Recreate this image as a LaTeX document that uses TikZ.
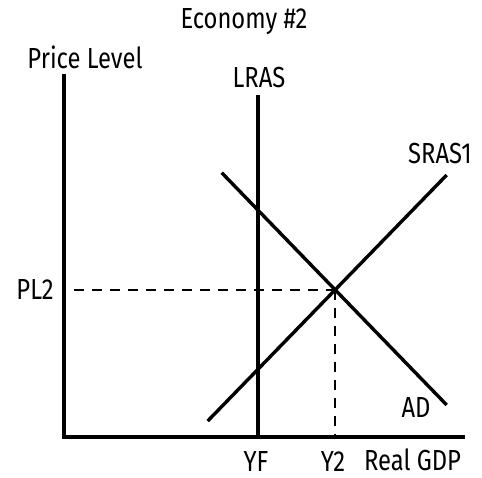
\documentclass[tikz,border=0pt]{standalone}
\usepackage{fontspec}
\setmainfont{Fira Sans}[FakeStretch=0.82]
\usetikzlibrary{positioning}
\tikzset{
  axisline/.style={line width=3.8pt, line join=miter},
  curveline/.style={line width=3.4pt},
  guideline/.style={line width=2pt, dash pattern=on 10pt off 8pt},
  graphlabel/.style={font=\fontsize{29}{32}\selectfont, inner sep=0pt, anchor=base}
}

\begin{document}
\begin{tikzpicture}[x=1pt, y=-1pt]
\useasboundingbox (0,0) rectangle (482,478);

% Axes
\coordinate (ytop) at (64,74);
\coordinate (origin) at (64,437);
\coordinate (xend) at (465,437);
\draw[axisline] (ytop) -- (origin) -- (xend);

% LRAS at full employment output
\coordinate (lrastop) at (258,95);
\coordinate (yf) at (258,437);
\draw[curveline] (lrastop) -- (yf);

% SRAS1 and AD
\coordinate (srasbot) at (207.7,421);
\coordinate (srastop) at (446.7,175);
\coordinate (adtop) at (221.7,172.7);
\coordinate (adbot) at (446.7,405);
\draw[curveline] (srasbot) -- (srastop);
\draw[curveline] (adtop) -- (adbot);

% Equilibrium guides
\coordinate (eq) at (335.2,289.6);
\coordinate (plstart) at (74,289.6);
\coordinate (y2) at (335.2,437);
\draw[guideline] (plstart) -- (eq);
\draw[guideline] (eq) -- (y2);

% Labels
\node[graphlabel] (title) at (244,29) {Economy \#2};
\node[graphlabel] (ylabel) at (85,69) {Price Level};
\node[graphlabel] (lraslabel) at (259,88) {LRAS};
\node[graphlabel] (sraslabel) at (440,164) {SRAS1};
\node[graphlabel] (pllabel) at (35,300) {PL2};
\node[graphlabel] (adlabel) at (416,417) {AD};
\node[graphlabel] (yflabel) at (256,471) {YF};
\node[graphlabel] (y2label) at (333,471) {Y2};
\node[graphlabel] (xlabel) at (412.5,470) {Real GDP};
\end{tikzpicture}
\end{document}
